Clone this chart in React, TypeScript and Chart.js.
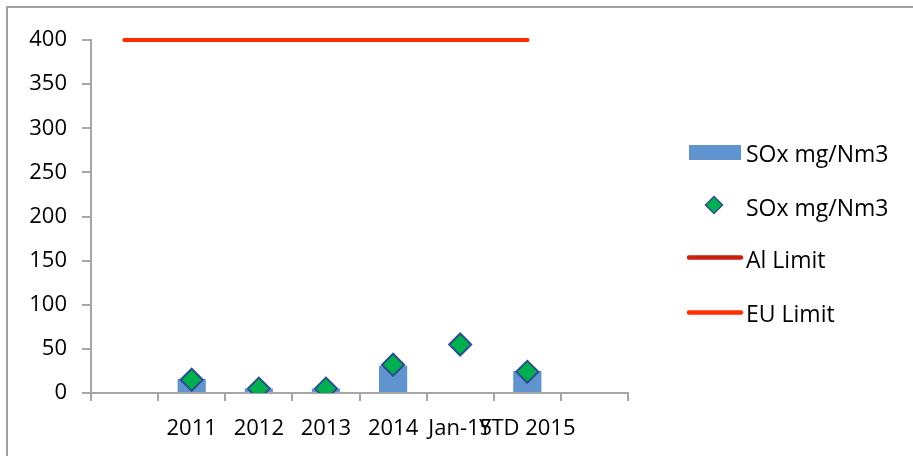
import React, { useEffect, useRef } from "react";
import { Chart, registerables } from "chart.js";

Chart.register(...registerables);

const categories = ["", "2011", "2012", "2013", "2014", "Jan-15", "YTD 2015", ""];
const barValues = [null, 16, 5, 5, 31, null, 25, null];
const pointValues = [null, 15, 5, 5, 32, 55, 24, null];
const alLimit = [400, 400, 400, 400, 400, 400, 400, null];
const euLimit = [400, 400, 400, 400, 400, 400, 400, null];
const seriesLabels = ["SOx mg/Nm3", "SOx mg/Nm3", "Al Limit", "EU Limit"];

const BLUE = "#5F94CE";
const GREEN = "#00B050";
const NAVY = "#2B4F8A";
const AL_RED = "#C9210B";
const EU_RED = "#FF2D00";
const AXIS_GRAY = "#A6A6A6";
const FONT = "'Open Sans', 'Liberation Sans', sans-serif";

const legendPlugin = {
  id: "customLegend",
  afterDraw(chart: any) {
    const ctx = chart.ctx as CanvasRenderingContext2D;
    const ds = chart.data.datasets;
    ctx.save();
    ctx.font = `23px ${FONT}`;
    ctx.textBaseline = "middle";
    ctx.textAlign = "left";
    const textX = 746;
    // bar item
    ctx.fillStyle = ds[0].backgroundColor;
    ctx.fillRect(689, 145, 52, 15);
    ctx.fillStyle = "#000";
    ctx.fillText(ds[0].label, textX, 155);
    // diamond item
    const cx = 714, cy = 205, r = 8.5;
    ctx.beginPath();
    ctx.moveTo(cx, cy - r);
    ctx.lineTo(cx + r, cy);
    ctx.lineTo(cx, cy + r);
    ctx.lineTo(cx - r, cy);
    ctx.closePath();
    ctx.fillStyle = ds[1].pointBackgroundColor;
    ctx.fill();
    ctx.lineWidth = 1.5;
    ctx.strokeStyle = ds[1].pointBorderColor;
    ctx.stroke();
    ctx.fillStyle = "#000";
    ctx.fillText(ds[1].label, textX, 209);
    // line items
    const lines = [
      { d: ds[2], y: 257.5, ty: 261 },
      { d: ds[3], y: 312.5, ty: 315 },
    ];
    for (const l of lines) {
      ctx.beginPath();
      ctx.lineCap = "round";
      ctx.lineWidth = 4.5;
      ctx.strokeStyle = l.d.borderColor;
      ctx.moveTo(689, l.y);
      ctx.lineTo(741, l.y);
      ctx.stroke();
      ctx.fillStyle = "#000";
      ctx.fillText(l.d.label, textX, l.ty);
    }
    ctx.restore();
  },
};

export default function App() {
  const ref = useRef<HTMLCanvasElement | null>(null);

  useEffect(() => {
    if (!ref.current) return;
    const chart = new Chart(ref.current, {
      type: "bar",
      data: {
        labels: categories,
        datasets: [
          {
            type: "bar",
            label: seriesLabels[0],
            data: barValues as any,
            backgroundColor: BLUE,
            borderWidth: 0,
            categoryPercentage: 1,
            barPercentage: 0.42,
            order: 4,
          },
          {
            type: "line",
            label: seriesLabels[1],
            data: pointValues as any,
            showLine: false,
            pointStyle: "rectRot",
            pointRadius: 11,
            pointBackgroundColor: GREEN,
            pointBorderColor: NAVY,
            pointBorderWidth: 2,
            order: 1,
          } as any,
          {
            type: "line",
            label: seriesLabels[2],
            data: alLimit as any,
            borderColor: AL_RED,
            borderWidth: 4,
            pointRadius: 0,
            fill: false,
            clip: false,
            borderCapStyle: "round",
            order: 3,
          } as any,
          {
            type: "line",
            label: seriesLabels[3],
            data: euLimit as any,
            borderColor: EU_RED,
            borderWidth: 4,
            pointRadius: 0,
            fill: false,
            clip: false,
            borderCapStyle: "round",
            order: 2,
          } as any,
        ],
      },
      options: {
        animation: false,
        responsive: false,
        maintainAspectRatio: false,
        events: [],
        layout: { padding: { top: 40, right: 285, left: 0, bottom: 0 } },
        plugins: {
          legend: { display: false },
          tooltip: { enabled: false },
          title: { display: false },
        },
        scales: {
          x: {
            type: "category",
            offset: true,
            grid: {
              display: true,
              offset: true,
              drawOnChartArea: false,
              drawTicks: true,
              tickLength: 8,
              color: AXIS_GRAY,
              lineWidth: 2,
            },
            border: { display: true, color: AXIS_GRAY, width: 2 },
            ticks: {
              color: "#000",
              font: { family: FONT, size: 22 },
              padding: 15,
              maxRotation: 0,
              minRotation: 0,
              autoSkip: false,
            },
            afterFit: (axis: any) => {
              axis.height = 63;
            },
          },
          y: {
            min: 0,
            max: 400,
            ticks: {
              stepSize: 50,
              color: "#000",
              font: { family: FONT, size: 22 },
              padding: 15,
            },
            grid: {
              display: true,
              drawOnChartArea: false,
              drawTicks: true,
              tickLength: 9,
              color: AXIS_GRAY,
              lineWidth: 2,
            },
            border: { display: true, color: AXIS_GRAY, width: 2 },
            afterFit: (axis: any) => {
              axis.width = 91;
            },
          },
        },
      },
      plugins: [legendPlugin],
    });
    return () => chart.destroy();
  }, []);

  return (
    <div
      style={{
        position: "fixed",
        left: 0,
        top: 0,
        width: 913,
        height: 456,
        overflow: "hidden",
        background: "#fff",
      }}
    >
      <div
        style={{
          position: "absolute",
          left: 6,
          top: 6,
          width: 1000,
          height: 600,
          borderTop: "2px solid #A0A0A0",
          borderLeft: "2px solid #A0A0A0",
        }}
      />
      <canvas
        ref={ref}
        width={913}
        height={456}
        style={{ position: "absolute", left: 0, top: 0, width: 913, height: 456 }}
      />
    </div>
  );
}
